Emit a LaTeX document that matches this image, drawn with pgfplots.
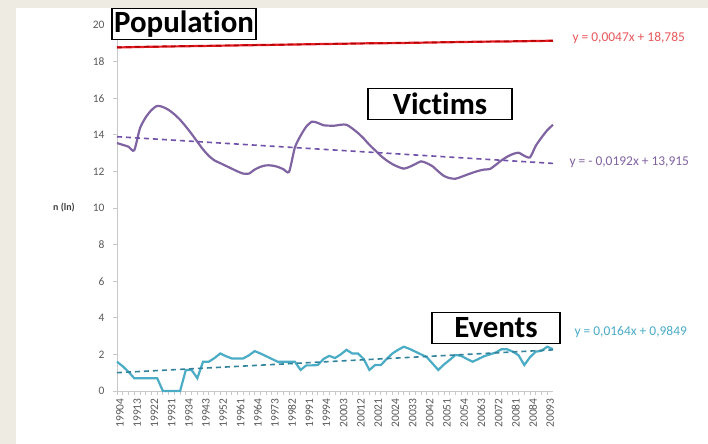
\documentclass[border=0pt]{standalone}
\usepackage{fontspec}
\setmainfont{Carlito}[RawFeature={-liga}]
\usepackage{pgfplots}
\usepackage{pgfplotstable}
\pgfplotsset{compat=1.18}

\definecolor{bgbeige}{HTML}{EEEBE3}
\definecolor{vicpurple}{HTML}{8064A2}
\definecolor{vicdash}{HTML}{7050A8}
\definecolor{evteal}{HTML}{4BACC6}
\definecolor{evdash}{HTML}{31849B}
\definecolor{popred}{HTML}{E41E26}
\definecolor{popdash}{HTML}{B00000}
\definecolor{axgray}{HTML}{C8C8C8}
\definecolor{labgray}{HTML}{595959}
\definecolor{eqred}{HTML}{E8585C}

% victims, ln
\pgfplotstableread{
i v
0 13.55
1 13.45
2 13.35
3 13.15
4 14.35
5 14.95
6 15.35
7 15.58
8 15.52
9 15.36
10 15.12
11 14.82
12 14.45
13 14.05
14 13.62
15 13.2
16 12.85
17 12.6
18 12.45
19 12.3
20 12.15
21 12.0
22 11.88
23 11.88
24 12.1
25 12.25
26 12.33
27 12.32
28 12.25
29 12.12
30 11.98
31 13.3
32 13.95
33 14.45
34 14.72
35 14.65
36 14.52
37 14.5
38 14.5
39 14.55
40 14.55
41 14.35
42 14.1
43 13.8
44 13.45
45 13.15
46 12.85
47 12.6
48 12.4
49 12.25
50 12.15
51 12.25
52 12.4
53 12.55
54 12.45
55 12.28
56 12.0
57 11.75
58 11.63
59 11.6
60 11.7
61 11.82
62 11.93
63 12.03
64 12.1
65 12.13
66 12.35
67 12.6
68 12.8
69 12.95
70 13.02
71 12.85
72 12.77
73 13.4
74 13.85
75 14.25
76 14.55
}\victims

% events, ln
\pgfplotstableread{
i v
0 1.6
1 1.35
2 1.05
3 0.7
4 0.7
5 0.7
6 0.7
7 0.7
8 0
9 0
10 0
11 0
12 1.15
13 1.15
14 0.7
15 1.6
16 1.6
17 1.8
18 2.05
19 1.9
20 1.78
21 1.78
22 1.78
23 1.95
24 2.18
25 2.05
26 1.9
27 1.75
28 1.6
29 1.6
30 1.6
31 1.6
32 1.15
33 1.4
34 1.4
35 1.42
36 1.75
37 1.92
38 1.8
39 2.0
40 2.25
41 2.05
42 2.05
43 1.75
44 1.15
45 1.42
46 1.42
47 1.75
48 2.05
49 2.25
50 2.42
51 2.3
52 2.15
53 2.0
54 1.85
55 1.5
56 1.15
57 1.45
58 1.7
59 1.97
60 1.92
61 1.75
62 1.6
63 1.75
64 1.9
65 2.0
66 2.1
67 2.28
68 2.28
69 2.15
70 1.95
71 1.42
72 1.85
73 2.15
74 2.2
75 2.42
76 2.28
}\events

% population, ln
\pgfplotstableread{
i v
0 18.77
4 18.80
8 18.82
12 18.84
16 18.86
20 18.88
24 18.90
28 18.92
32 18.94
36 18.96
40 18.98
44 19.00
48 19.01
52 19.03
56 19.05
60 19.07
64 19.09
68 19.10
72 19.12
76 19.14
}\population

\begin{document}
\begin{tikzpicture}
  \fill[bgbeige] (0,0) rectangle (708bp,444bp);
  \fill[white] (16bp,0) rectangle (708bp,436bp);

  \begin{axis}[
    at={(117bp,53bp)}, anchor=south west,
    width=436bp, height=366bp, scale only axis,
    xmin=0, xmax=76, ymin=0, ymax=20, clip=false,
    axis x line=bottom, axis y line=left,
    axis line style={-, draw=axgray, line width=1bp},
    tick style={draw=axgray, line width=0.8bp},
    tick align=outside,
    major tick length=4bp, minor tick length=4bp,
    ytick={0,2,...,20},
    xtick={0,3,...,75},
    minor x tick num=2,
    xticklabels={19904,19913,19922,19931,19934,19943,19952,19961,19964,
      19973,19982,19991,19994,20003,20012,20021,20024,20033,20042,20051,
      20054,20063,20072,20081,20084,20093},
    /pgf/number format/assume math mode=true,
    ticklabel style={font=\fontsize{11.5}{13}\selectfont, text=labgray},
    yticklabel style={xshift=-5bp},
    xticklabel style={rotate=90, anchor=east, yshift=-3bp},
  ]
    \addplot[popred, line width=2.2bp] table[x=i, y=v] {\population};
    \addplot[popdash, line width=1.4bp, dash pattern=on 5bp off 4bp]
      coordinates {(0,18.790) (76,19.147)};

    \addplot[vicpurple, line width=2.2bp, smooth, tension=0.4]
      table[x=i, y=v] {\victims};
    \addplot[vicdash, line width=1.6bp, dash pattern=on 5bp off 4bp]
      coordinates {(0,13.896) (76,12.437)};

    \addplot[evteal, line width=2.2bp] table[x=i, y=v] {\events};
    \addplot[evdash, line width=1.6bp, dash pattern=on 5bp off 4bp]
      coordinates {(0,1.001) (76,2.248)};
  \end{axis}

  % labels in picture coordinates (bp, from bottom left)
  \node[font=\bfseries\fontsize{10}{12}\selectfont, text=black!75] at (64bp,236bp) {n (ln)};

  \node[anchor=west, text=eqred, font=\fontsize{13.5}{15}\selectfont] at (569bp,406bp) {y = 0,0047x + 18,785};
  \node[anchor=west, text=vicpurple, font=\fontsize{13.5}{15}\selectfont] at (566bp,282bp) {y = - 0,0192x + 13,915};
  \node[anchor=west, text=evteal, font=\fontsize{13.5}{15}\selectfont] at (571bp,112bp) {y = 0,0164x + 0,9849};

  \tikzset{box/.style={draw=black, line width=1.3bp, fill=white, inner sep=0,
      minimum height=31bp, font=\bfseries\fontsize{31}{31}\selectfont}}
  \node[box, minimum width=144bp] at (184bp,420bp) {Population};
  \node[box, minimum width=144bp] at (440bp,340bp) {Victims};
  \node[box, minimum width=128bp] at (496bp,116bp) {Events};

  \pgfresetboundingbox
  \path (0,0) rectangle (708bp,444bp);
\end{tikzpicture}
\end{document}
